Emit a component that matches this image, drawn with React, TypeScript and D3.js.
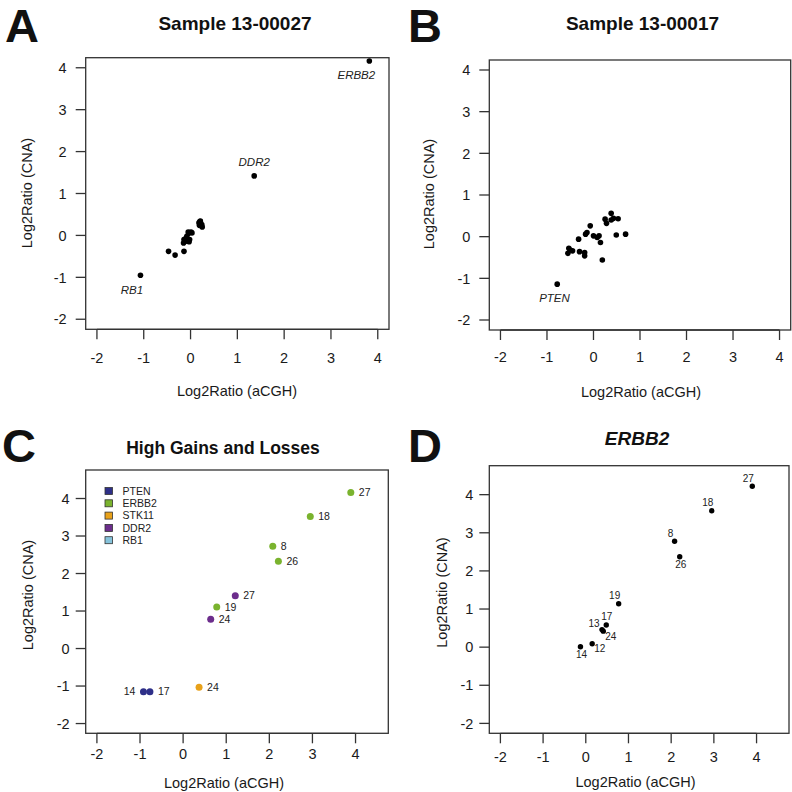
import React from "react";
import * as d3 from "d3";

// ---------- DATA ----------
const tickValues = [-2, -1, 0, 1, 2, 3, 4];

// Panel A: Sample 13-00027
const aLabeledGenes = ["ERBB2", "DDR2", "RB1"];
const aLabeledX = [3.82, 1.36, -1.07];
const aLabeledY = [4.16, 1.42, -0.95];
const aOtherX = [-0.47, -0.33, -0.14, -0.15, -0.14, -0.11, -0.08, -0.08, -0.04, -0.05, 0.01, 0.03, -0.02, -0.03, 0.19, 0.2, 0.21, 0.24, 0.25, 0.18];
const aOtherY = [-0.38, -0.47, -0.38, -0.18, -0.1, -0.08, -0.02, -0.14, 0.05, 0.08, 0.08, 0.06, -0.1, -0.15, 0.24, 0.33, 0.34, 0.26, 0.2, 0.3];

// Panel B: Sample 13-00017
const bLabeledGenes = ["PTEN"];
const bLabeledX = [-0.78];
const bLabeledY = [-1.14];
const bOtherX = [-0.53, -0.5, -0.55, -0.45, -0.3, -0.19, -0.19, -0.32, -0.17, -0.14, -0.07, 0.0, 0.08, 0.12, 0.15, 0.19, 0.25, 0.28, 0.38, 0.38, 0.43, 0.53, 0.49, 0.69];
const bOtherY = [-0.28, -0.32, -0.4, -0.34, -0.36, -0.38, -0.46, -0.06, 0.06, 0.1, 0.26, 0.02, -0.02, 0.02, -0.14, -0.56, 0.42, 0.32, 0.56, 0.4, 0.44, 0.43, 0.04, 0.06];

// Panel C: High Gains and Losses
const cGenes = ["PTEN", "ERBB2", "STK11", "DDR2", "RB1"];
const cGeneColors = ["#2e2f88", "#7ab32e", "#e8a11a", "#6c2d8c", "#86c3db"];
const cPointGene = ["ERBB2", "ERBB2", "ERBB2", "ERBB2", "DDR2", "ERBB2", "DDR2", "STK11", "PTEN", "PTEN"];
const cPointSample = ["27", "18", "8", "26", "27", "19", "24", "24", "14", "17"];
const cPointX = [3.89, 2.95, 2.08, 2.21, 1.21, 0.78, 0.64, 0.37, -0.92, -0.77];
const cPointY = [4.16, 3.52, 2.73, 2.33, 1.41, 1.11, 0.78, -1.03, -1.15, -1.15];
const cLabelSide = ["r", "r", "r", "r", "r", "r", "r", "r", "l", "r"];

// Panel D: ERBB2
const dSample = ["27", "18", "8", "26", "19", "17", "13", "24", "12", "14"];
const dX = [3.9, 2.95, 2.08, 2.2, 0.77, 0.48, 0.38, 0.41, 0.15, -0.125];
const dY = [4.22, 3.58, 2.78, 2.37, 1.14, 0.58, 0.46, 0.42, 0.09, 0.01];
const dLabelPos = ["tl", "tl", "tl", "b", "tl", "t", "l", "br", "br", "b"];

// ---------- STYLE ----------
const FONT = "'Liberation Sans', Arial, Helvetica, sans-serif";
const TXT = "#1a1a1a";

type PanelProps = {
  letter: string;
  letterX: number;
  letterY: number;
  title: string;
  titleX: number;
  titleY: number;
  titleSize: number;
  titleItalic?: boolean;
  box: { l: number; r: number; t: number; b: number };
  dom: [number, number];
  yLabelGap: number;
  xTickBase: number;
  xTitleX: number;
  xTitleBase: number;
  yTitleX: number;
  yTitleY: number;
  children?: (x: d3.ScaleLinear<number, number>, y: d3.ScaleLinear<number, number>) => React.ReactNode;
};

function Panel(p: PanelProps) {
  const x = d3.scaleLinear().domain(p.dom).range([p.box.l, p.box.r]);
  const y = d3.scaleLinear().domain(p.dom).range([p.box.b, p.box.t]);
  const tl = 10;
  return (
    <g>
      <text x={p.letterX} y={p.letterY} fontFamily={FONT} fontWeight="bold" fontSize={47} fill="#111">
        {p.letter}
      </text>
      <text
        x={p.titleX}
        y={p.titleY}
        textAnchor="middle"
        fontFamily={FONT}
        fontWeight="bold"
        fontStyle={p.titleItalic ? "italic" : "normal"}
        fontSize={p.titleSize}
        fill="#111"
      >
        {p.title}
      </text>
      <rect
        x={p.box.l}
        y={p.box.t}
        width={p.box.r - p.box.l}
        height={p.box.b - p.box.t}
        fill="none"
        stroke="#333"
        strokeWidth={1.3}
      />
      {/* x axis */}
      <line x1={x(tickValues[0])} x2={x(tickValues[tickValues.length - 1])} y1={p.box.b} y2={p.box.b} stroke="#333" strokeWidth={1.3} />
      {tickValues.map((t) => (
        <g key={"xt" + t}>
          <line x1={x(t)} x2={x(t)} y1={p.box.b} y2={p.box.b + tl} stroke="#333" strokeWidth={1.3} />
          <text x={x(t)} y={p.xTickBase} textAnchor="middle" fontFamily={FONT} fontSize={14.5} fill={TXT}>
            {t}
          </text>
        </g>
      ))}
      {/* y axis */}
      {tickValues.map((t) => (
        <g key={"yt" + t}>
          <line x1={p.box.l - tl} x2={p.box.l} y1={y(t)} y2={y(t)} stroke="#333" strokeWidth={1.3} />
          <text
            x={p.box.l - p.yLabelGap}
            y={y(t)}
            dy="0.36em"
            textAnchor="end"
            fontFamily={FONT}
            fontSize={14.5}
            fill={TXT}
          >
            {t}
          </text>
        </g>
      ))}
      <text x={p.xTitleX} y={p.xTitleBase} textAnchor="middle" fontFamily={FONT} fontSize={14.5} fill={TXT}>
        Log2Ratio (aCGH)
      </text>
      <text
        transform={`translate(${p.yTitleX},${p.yTitleY}) rotate(-90)`}
        textAnchor="middle"
        fontFamily={FONT}
        fontSize={14.5}
        fill={TXT}
      >
        Log2Ratio (CNA)
      </text>
      {p.children ? p.children(x, y) : null}
    </g>
  );
}

const geneLabelOffset: Record<string, [number, number]> = {
  ERBB2: [-13, 18],
  DDR2: [0, -9.6],
  RB1: [-8.6, 19],
  PTEN: [-2.7, 17.4],
};

const dOffset: Record<string, { dx: number; dy: number; anchor: string }> = {
  tl: { dx: -4, dy: -4.3, anchor: "middle" },
  t: { dx: 0.5, dy: -5, anchor: "middle" },
  b: { dx: 1, dy: 11.5, anchor: "middle" },
  l: { dx: -2.5, dy: -2.5, anchor: "end" },
  br: { dx: 2, dy: 8.5, anchor: "start" },
};

export default function App() {
  const color = d3.scaleOrdinal<string, string>().domain(cGenes).range(cGeneColors);
  return (
    <svg
      width={792}
      height={792}
      viewBox="0 0 792 792"
      style={{ position: "absolute", left: 0, top: 0, background: "#fff" }}
    >
      <rect x={0} y={0} width={792} height={792} fill="#fff" />
      {/* Panel A */}
      <Panel
        letter="A"
        letterX={5}
        letterY={42}
        title="Sample 13-00027"
        titleX={235}
        titleY={30}
        titleSize={19}
        box={{ l: 85.7, r: 389, t: 57.7, b: 329.3 }}
        dom={[-2.24, 4.24]}
        yLabelGap={19}
        xTickBase={363}
        xTitleX={237}
        xTitleBase={396}
        yTitleX={32}
        yTitleY={193}
      >
        {(x, y) => (
          <g>
            {aOtherX.map((v, i) => (
              <circle key={"ao" + i} cx={x(v)} cy={y(aOtherY[i])} r={2.8} fill="#000" />
            ))}
            {aLabeledGenes.map((g, i) => (
              <g key={"al" + g}>
                <circle cx={x(aLabeledX[i])} cy={y(aLabeledY[i])} r={2.8} fill="#000" />
                <text
                  x={x(aLabeledX[i]) + geneLabelOffset[g][0]}
                  y={y(aLabeledY[i]) + geneLabelOffset[g][1]}
                  textAnchor="middle"
                  fontFamily={FONT}
                  fontStyle="italic"
                  fontSize={11.5}
                  fill="#222"
                >
                  {g}
                </text>
              </g>
            ))}
          </g>
        )}
      </Panel>
      {/* Panel B */}
      <Panel
        letter="B"
        letterX={408}
        letterY={42}
        title="Sample 13-00017"
        titleX={642.5}
        titleY={30}
        titleSize={19}
        box={{ l: 489.3, r: 790.7, t: 60, b: 330 }}
        dom={[-2.24, 4.24]}
        yLabelGap={19}
        xTickBase={362}
        xTitleX={641}
        xTitleBase={396.5}
        yTitleX={433.5}
        yTitleY={194}
      >
        {(x, y) => (
          <g>
            {bOtherX.map((v, i) => (
              <circle key={"bo" + i} cx={x(v)} cy={y(bOtherY[i])} r={2.8} fill="#000" />
            ))}
            {bLabeledGenes.map((g, i) => (
              <g key={"bl" + g}>
                <circle cx={x(bLabeledX[i])} cy={y(bLabeledY[i])} r={2.8} fill="#000" />
                <text
                  x={x(bLabeledX[i]) + geneLabelOffset[g][0]}
                  y={y(bLabeledY[i]) + geneLabelOffset[g][1]}
                  textAnchor="middle"
                  fontFamily={FONT}
                  fontStyle="italic"
                  fontSize={11.5}
                  fill="#222"
                >
                  {g}
                </text>
              </g>
            ))}
          </g>
        )}
      </Panel>
      {/* Panel C */}
      <Panel
        letter="C"
        letterX={2}
        letterY={462}
        title="High Gains and Losses"
        titleX={223}
        titleY={453.5}
        titleSize={17.5}
        box={{ l: 85.7, r: 388.3, t: 470, b: 733.3 }}
        dom={[-2.26, 4.76]}
        yLabelGap={16}
        xTickBase={759}
        xTitleX={224}
        xTitleBase={788}
        yTitleX={33}
        yTitleY={595}
      >
        {(x, y) => (
          <g>
            {cGenes.map((g, i) => (
              <g key={"lg" + g}>
                <rect
                  x={105}
                  y={487.5 + i * 12.3}
                  width={7.5}
                  height={7}
                  fill={color(g)}
                  stroke="#333"
                  strokeWidth={0.8}
                />
                <text x={122.5} y={491 + i * 12.3} dy="0.36em" fontFamily={FONT} fontSize={10.5} fill="#222">
                  {g}
                </text>
              </g>
            ))}
            {cPointX.map((v, i) => (
              <g key={"cp" + i}>
                <circle cx={x(v)} cy={y(cPointY[i])} r={3.5} fill={color(cPointGene[i])} />
                <text
                  x={x(v) + (cLabelSide[i] === "r" ? 8 : -8)}
                  y={y(cPointY[i])}
                  dy="0.36em"
                  textAnchor={cLabelSide[i] === "r" ? "start" : "end"}
                  fontFamily={FONT}
                  fontSize={10.5}
                  fill="#222"
                >
                  {cPointSample[i]}
                </text>
              </g>
            ))}
          </g>
        )}
      </Panel>
      {/* Panel D */}
      <Panel
        letter="D"
        letterX={408}
        letterY={462}
        title="ERBB2"
        titleItalic
        titleX={637}
        titleY={445}
        titleSize={19}
        box={{ l: 489.3, r: 789, t: 465.7, b: 733.3 }}
        dom={[-2.26, 4.76]}
        yLabelGap={16}
        xTickBase={761.5}
        xTitleX={635.5}
        xTitleBase={786.5}
        yTitleX={447}
        yTitleY={592.5}
      >
        {(x, y) => (
          <g>
            {dX.map((v, i) => {
              const o = dOffset[dLabelPos[i]];
              return (
                <g key={"dp" + i}>
                  <circle cx={x(v)} cy={y(dY[i])} r={2.7} fill="#000" />
                  <text
                    x={x(v) + o.dx}
                    y={y(dY[i]) + o.dy}
                    textAnchor={o.anchor}
                    fontFamily={FONT}
                    fontSize={10}
                    fill="#222"
                  >
                    {dSample[i]}
                  </text>
                </g>
              );
            })}
          </g>
        )}
      </Panel>
    </svg>
  );
}
